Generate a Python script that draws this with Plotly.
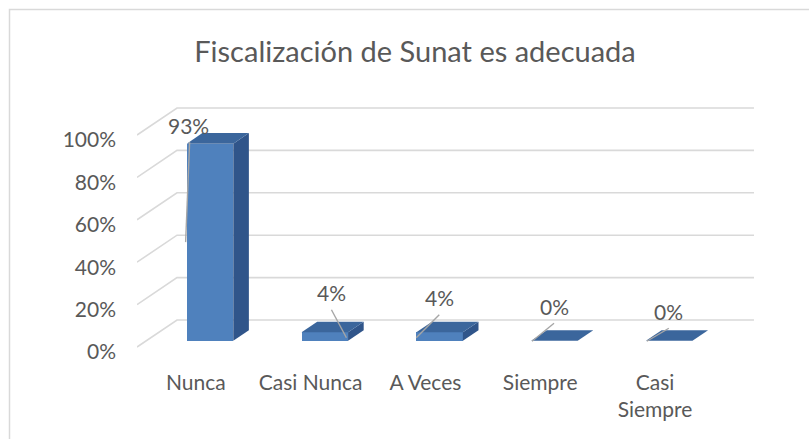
import plotly.graph_objects as go

# ---- data ----
categories = ["Nunca", "Casi Nunca", "A Veces", "Siempre", "Casi Siempre"]
tick_text = ["Nunca", "Casi Nunca", "A Veces", "Siempre", "Casi<br>Siempre"]
values = [93, 4, 4, 0, 0]          # percent
value_labels = ["93%", "4%", "4%", "0%", "0%"]
y_ticks = [0, 20, 40, 60, 80, 100]
y_tick_text = ["0%", "20%", "40%", "60%", "80%", "100%"]
title = "Fiscalización de Sunat es adecuada"

# ---- style / geometry ----
W, H = 809, 439
PX_X = 114.8            # px per category unit
PX_Y = 2.12             # px per percent
ML, MR, MT, MB = 137, 52, 90, 71
ZERO_PX = 347           # pixel row of 0% on the front plane
WALL_LEFT = -0.556
WALL_RIGHT = 4.47
DEPTH_PX = (40, 27)     # oblique depth vector (right, up)
DXU = DEPTH_PX[0] / PX_X
DYU = DEPTH_PX[1] / PX_Y
T_FRONT, T_BACK = 0.23, 0.62
BAR_W = 0.405

TEXT = "#595959"
GRID = "#D9D9D9"
FRONT = "#4F81BD"
SIDE = "#30558A"
TOP = "#3B669C"
LEADER = "#A6A6A6"
FONT = "Lato"

plot_w = W - ML - MR
plot_h = H - MT - MB
x_range = [WALL_LEFT, WALL_LEFT + plot_w / PX_X]
y_range = [(ZERO_PX - (MT + plot_h)) / PX_Y, (ZERO_PX - MT) / PX_Y]

# label nudges (px, right / up) relative to back-top centre of each bar
label_nudge = [(-37, 8), (-9, 29), (-16, 24), (-16, 24), (-16, 19)]
# leader lines, px offsets (right, down) from label centre (start, end)
leaders = [((1, 17), (-3, 117)), ((0, 17), (15, 45)), ((0, 17), (-23, 40)),
           ((0, 17), (-22, 35)), ((0, 17), (-22, 30))]

fig = go.Figure()

# walls: side-wall diagonals + back-wall horizontals (below all traces)
for v in y_ticks:
    fig.add_shape(type="path", xref="x", yref="y", layer="below",
                  path=f"M {WALL_LEFT},{v} L {WALL_LEFT + DXU},{v + DYU} L {WALL_RIGHT + DXU},{v + DYU}",
                  line=dict(color=GRID, width=1.6))

# bars (front faces)
fx = [i + T_FRONT * DXU for i in range(len(values))]
base = T_FRONT * DYU
fig.add_trace(go.Bar(x=fx, y=values, base=[base] * len(values), width=BAR_W,
                     marker=dict(color=FRONT, line=dict(width=0)),
                     hoverinfo="skip", showlegend=False))
bdx = (T_BACK - T_FRONT) * DXU
bdy = (T_BACK - T_FRONT) * DYU
for i, v in enumerate(values):
    xl = fx[i] - BAR_W / 2
    xr = fx[i] + BAR_W / 2
    yb = base
    yt = v + base
    if v > 0:
        fig.add_trace(go.Scatter(x=[xr, xr + bdx, xr + bdx, xr, xr],
                                 y=[yb, yb + bdy, yt + bdy, yt, yb],
                                 fill="toself", fillcolor=SIDE, mode="lines",
                                 line=dict(width=0, color=SIDE),
                                 hoverinfo="skip", showlegend=False))
    fig.add_trace(go.Scatter(x=[xl, xr, xr + bdx, xl + bdx, xl],
                             y=[yt, yt, yt + bdy, yt + bdy, yt],
                             fill="toself", fillcolor=TOP, mode="lines",
                             line=dict(width=0, color=TOP),
                             hoverinfo="skip", showlegend=False))

# data labels + leader lines
for i, v in enumerate(values):
    ax = fx[i] + bdx
    ay = v + base + bdy
    nx, ny = label_nudge[i]
    lx = ax + nx / PX_X
    ly = ay + ny / PX_Y
    (s0x, s0y), (s1x, s1y) = leaders[i]
    fig.add_trace(go.Scatter(x=[lx + s0x / PX_X, lx + s1x / PX_X],
                             y=[ly - s0y / PX_Y, ly - s1y / PX_Y],
                             mode="lines", line=dict(color=LEADER, width=1.4),
                             hoverinfo="skip", showlegend=False))
    fig.add_annotation(x=lx, y=ly, text=value_labels[i], showarrow=False,
                       xanchor="center", yanchor="middle",
                       font=dict(family=FONT, size=21, color=TEXT))

# chart border (left + top visible)
bx0 = (9.5 - ML) / plot_w
by1 = (H - 9.5 - MB) / plot_h
fig.add_shape(type="rect", xref="paper", yref="paper",
              x0=bx0, x1=(W + 20 - ML) / plot_w, y0=(-20 - MB) / plot_h, y1=by1,
              line=dict(color=GRID, width=1.5), layer="below")

fig.update_layout(
    width=W, height=H,
    margin=dict(l=ML, r=MR, t=MT, b=MB, autoexpand=False),
    paper_bgcolor="white", plot_bgcolor="white",
    title=dict(text=title, x=415 / W, xanchor="center", xref="container",
               y=1 - 52 / H, yanchor="middle", yref="container",
               font=dict(family=FONT, size=29, color=TEXT)),
    xaxis=dict(range=x_range, tickmode="array", tickvals=list(range(len(categories))),
               ticktext=tick_text, showgrid=False, zeroline=False, showline=False,
               ticks="", tickfont=dict(family=FONT, size=21, color=TEXT),
               ticklabelstandoff=0, ticklabelshift=-5, automargin=False, fixedrange=True),
    yaxis=dict(range=y_range, tickmode="array", tickvals=y_ticks, ticktext=y_tick_text,
               showgrid=False, zeroline=False, showline=False, ticks="",
               tickfont=dict(family=FONT, size=21, color=TEXT),
               ticklabelstandoff=20, ticklabelshift=5, automargin=False, fixedrange=True),
    bargap=0,
)

fig.write_html("out.html", config={"displayModeBar": False},
               post_script="document.body.style.margin='0';")
